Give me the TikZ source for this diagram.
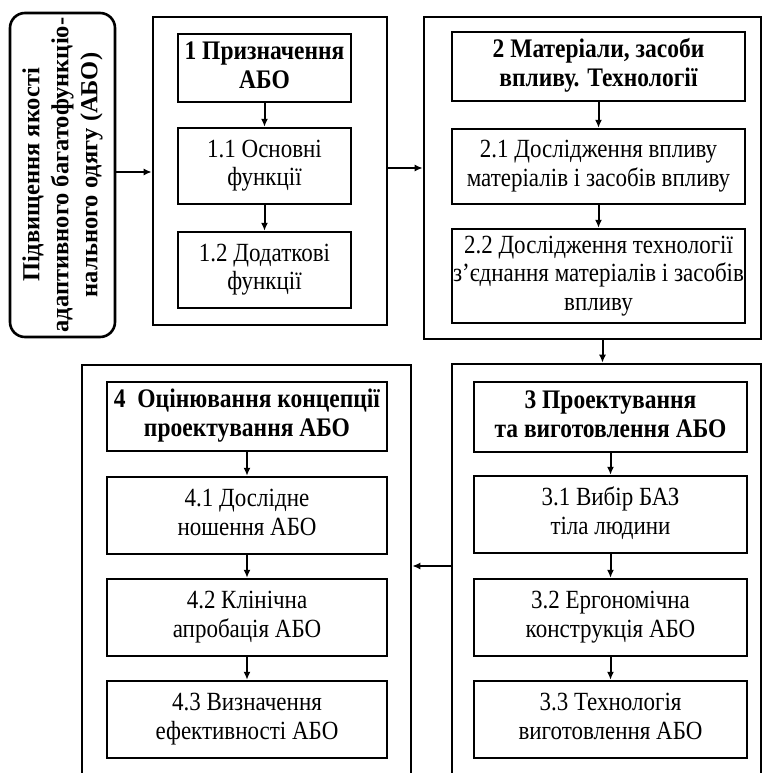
\documentclass[tikz,border=0pt]{standalone}
\usepackage{fontspec}
\setmainfont{Liberation Serif}
\usetikzlibrary{arrows.meta,calc}
\newcommand\stx[1]{\scalebox{1}[1.14]{\begin{tabular}{@{}c@{}}#1\end{tabular}}}
\begin{document}
\begin{tikzpicture}[x=1pt,y=-1pt,
 box/.style={draw, line width=2.4pt, align=center, inner sep=0pt, font=\fontsize{23}{25}\selectfont},
 head/.style={box, font=\fontsize{23.5}{25.5}\selectfont\bfseries},
 outer/.style={draw, line width=2.6pt, inner sep=0pt},
 arr/.style={line width=2pt, -{Latex[length=8pt,width=7pt]}}
]
\useasboundingbox (0,0) rectangle (763,773);
\clip (0,0) rectangle (763,773);
\fill[white] (0,0) rectangle (763,773);

% left goal box
\node[outer, rounded corners=15pt, minimum width=105, minimum height=324] (L) at (62.5,175) {};
\node[rotate=90, align=center, inner sep=0pt, font=\fontsize{24.5}{29}\selectfont\bfseries] (Lt) at (L.center)
 {Підвищення якості\\адаптивного багатофункціо-\\нального одягу (АБО)};

% outer frames
\node[outer, minimum width=234, minimum height=308] (o1) at (270,171) {};
\node[outer, minimum width=337, minimum height=322] (o2) at (592.5,178) {};
\node[outer, minimum width=309, minimum height=426] (o3) at (606.5,577) {};
\node[outer, minimum width=329, minimum height=425] (o4) at (246.5,577.5) {};

% column 1
\node[head, minimum width=173, minimum height=68] (b1) at (264.5,68) {\stx{1 Призначення\\АБО}};
\node[box, minimum width=173, minimum height=76] (b11) at (264.5,166) {\stx{1.1 Основні\\функції}};
\node[box, minimum width=173, minimum height=76] (b12) at (264.5,270) {\stx{1.2 Додаткові\\функції}};

% column 2
\node[head, minimum width=293, minimum height=69] (b2) at (598.5,66.5) {\stx{2 Матеріали, засоби\\впливу. Технології}};
\node[box, minimum width=293, minimum height=75] (b21) at (598.5,166.5) {\stx{2.1 Дослідження впливу\\матеріалів і засобів впливу}};
\node[box, minimum width=293, minimum height=94] (b22) at (598.5,276) {\stx{2.2 Дослідження технології\\з’єднання матеріалів і засобів\\впливу}};

% column 3
\node[head, minimum width=273, minimum height=70] (b3) at (610.5,417) {\stx{3 Проектування\\та виготовлення АБО}};
\node[box, minimum width=273, minimum height=77] (b31) at (610.5,514.5) {\stx{3.1 Вибір БАЗ\\тіла людини}};
\node[box, minimum width=273, minimum height=77] (b32) at (610.5,617.5) {\stx{3.2 Ергономічна\\конструкція АБО}};
\node[box, minimum width=273, minimum height=77] (b33) at (610.5,719.5) {\stx{3.3 Технологія\\виготовлення АБО}};

% column 4
\node[head, minimum width=280, minimum height=69] (b4) at (247,416.5) {\stx{4\ \ Оцінювання концепції\\проектування АБО}};
\node[box, minimum width=280, minimum height=77] (b41) at (247,515.5) {\stx{4.1 Дослідне\\ношення АБО}};
\node[box, minimum width=280, minimum height=77] (b42) at (247,617.5) {\stx{4.2 Клінічна\\апробація АБО}};
\node[box, minimum width=280, minimum height=77] (b43) at (247,719.5) {\stx{4.3 Визначення\\ефективності АБО}};

% inner arrows
\draw[arr] (b1) -- (b11);
\draw[arr] (b11) -- (b12);
\draw[arr] (b2) -- (b21);
\draw[arr] (b21) -- (b22);
\draw[arr] (b3) -- (b31);
\draw[arr] (b31) -- (b32);
\draw[arr] (b32) -- (b33);
\draw[arr] (b4) -- (b41);
\draw[arr] (b41) -- (b42);
\draw[arr] (b42) -- (b43);

% arrows between frames
\coordinate (m0) at ($(L.east)+(0,-3)$);
\draw[arr] (m0) -- (o1.west |- m0);
\coordinate (m1) at ($(o1.east)+(0,-3)$);
\draw[arr] (m1) -- (o2.west |- m1);
\coordinate (m2) at ($(o2.south)+(10,0)$);
\draw[arr] (m2) -- (o3.north -| m2);
\coordinate (m3) at ($(b31.south)!0.5!(b32.north)$);
\draw[arr] (o3.west |- m3) -- (o4.east |- m3);
\end{tikzpicture}
\end{document}
